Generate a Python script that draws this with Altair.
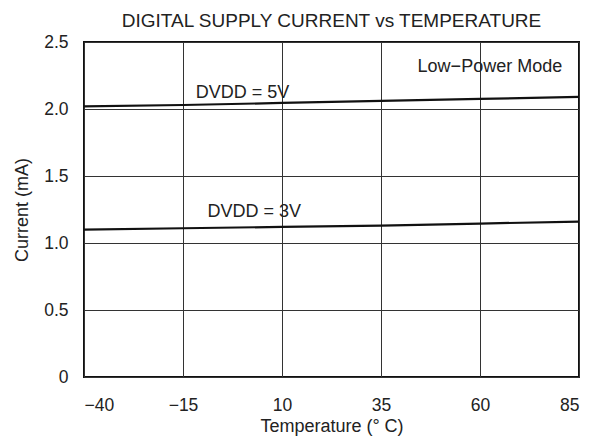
import altair as alt
import pandas as pd

temps = [-40, -15, 10, 35, 60, 85]
dvdd5 = [2.02, 2.03, 2.045, 2.06, 2.075, 2.09]
dvdd3 = [1.10, 1.11, 1.12, 1.13, 1.145, 1.16]

label_text = ["DVDD = 5V", "DVDD = 3V", "Low\u2212Power Mode"]
label_x = [0, 3, 62.5]
label_y = [2.12, 1.23, 2.31]

FONT = "Liberation Sans"

rows = []
for t, v in zip(temps, dvdd5):
    rows.append({"T": t, "I": v, "s": "5V"})
for t, v in zip(temps, dvdd3):
    rows.append({"T": t, "I": v, "s": "3V"})
df = pd.DataFrame(rows)
lab = pd.DataFrame({"x": label_x, "y": label_y, "t": label_text})

xs = alt.Scale(domain=[-40, 85], nice=False, zero=False)
ys = alt.Scale(domain=[0, 2.5], nice=False)

xax = alt.Axis(values=temps, title="Temperature (\u00b0 C)", grid=True, gridColor="#333333",
               gridWidth=1, domain=False, ticks=False, labelPadding=19, labelFontSize=17.5,
               titleFontSize=18, titleFontWeight="normal", titlePadding=4, labelColor="#222",
               titleColor="#222", labelFont=FONT, titleFont=FONT)
yax = alt.Axis(values=[0, 0.5, 1.0, 1.5, 2.0, 2.5], title="Current (mA)", grid=True,
               gridColor="#333333", gridWidth=1, domain=False, ticks=False, labelPadding=16,
               labelFontSize=17.5, titleFontSize=18, titleFontWeight="normal", titlePadding=12,
               labelColor="#222", titleColor="#222", labelFont=FONT, titleFont=FONT,
               labelExpr="datum.value == 0 ? '0' : format(datum.value, '.1f')")

lines = alt.Chart(df).mark_line(color="#111111", strokeWidth=2.2).encode(
    x=alt.X("T:Q", scale=xs, axis=xax),
    y=alt.Y("I:Q", scale=ys, axis=yax),
    detail="s:N",
)

texts = alt.Chart(lab).mark_text(fontSize=18, font=FONT, color="#222").encode(
    x=alt.X("x:Q", scale=xs),
    y=alt.Y("y:Q", scale=ys),
    text="t:N",
)

chart = (lines + texts).properties(
    width=495, height=335,
    title=alt.TitleParams("DIGITAL SUPPLY CURRENT vs TEMPERATURE", fontSize=19,
                          fontWeight="normal", font=FONT, color="#222", offset=2,
                          frame="group"),
    autosize=alt.AutoSizeParams(type="none"),
    padding={"left": 76, "top": 34, "right": 3, "bottom": 59},
).configure_view(stroke="#111111", strokeWidth=2)

chart.save("out.html", embed_options={"renderer": "svg", "actions": False})
